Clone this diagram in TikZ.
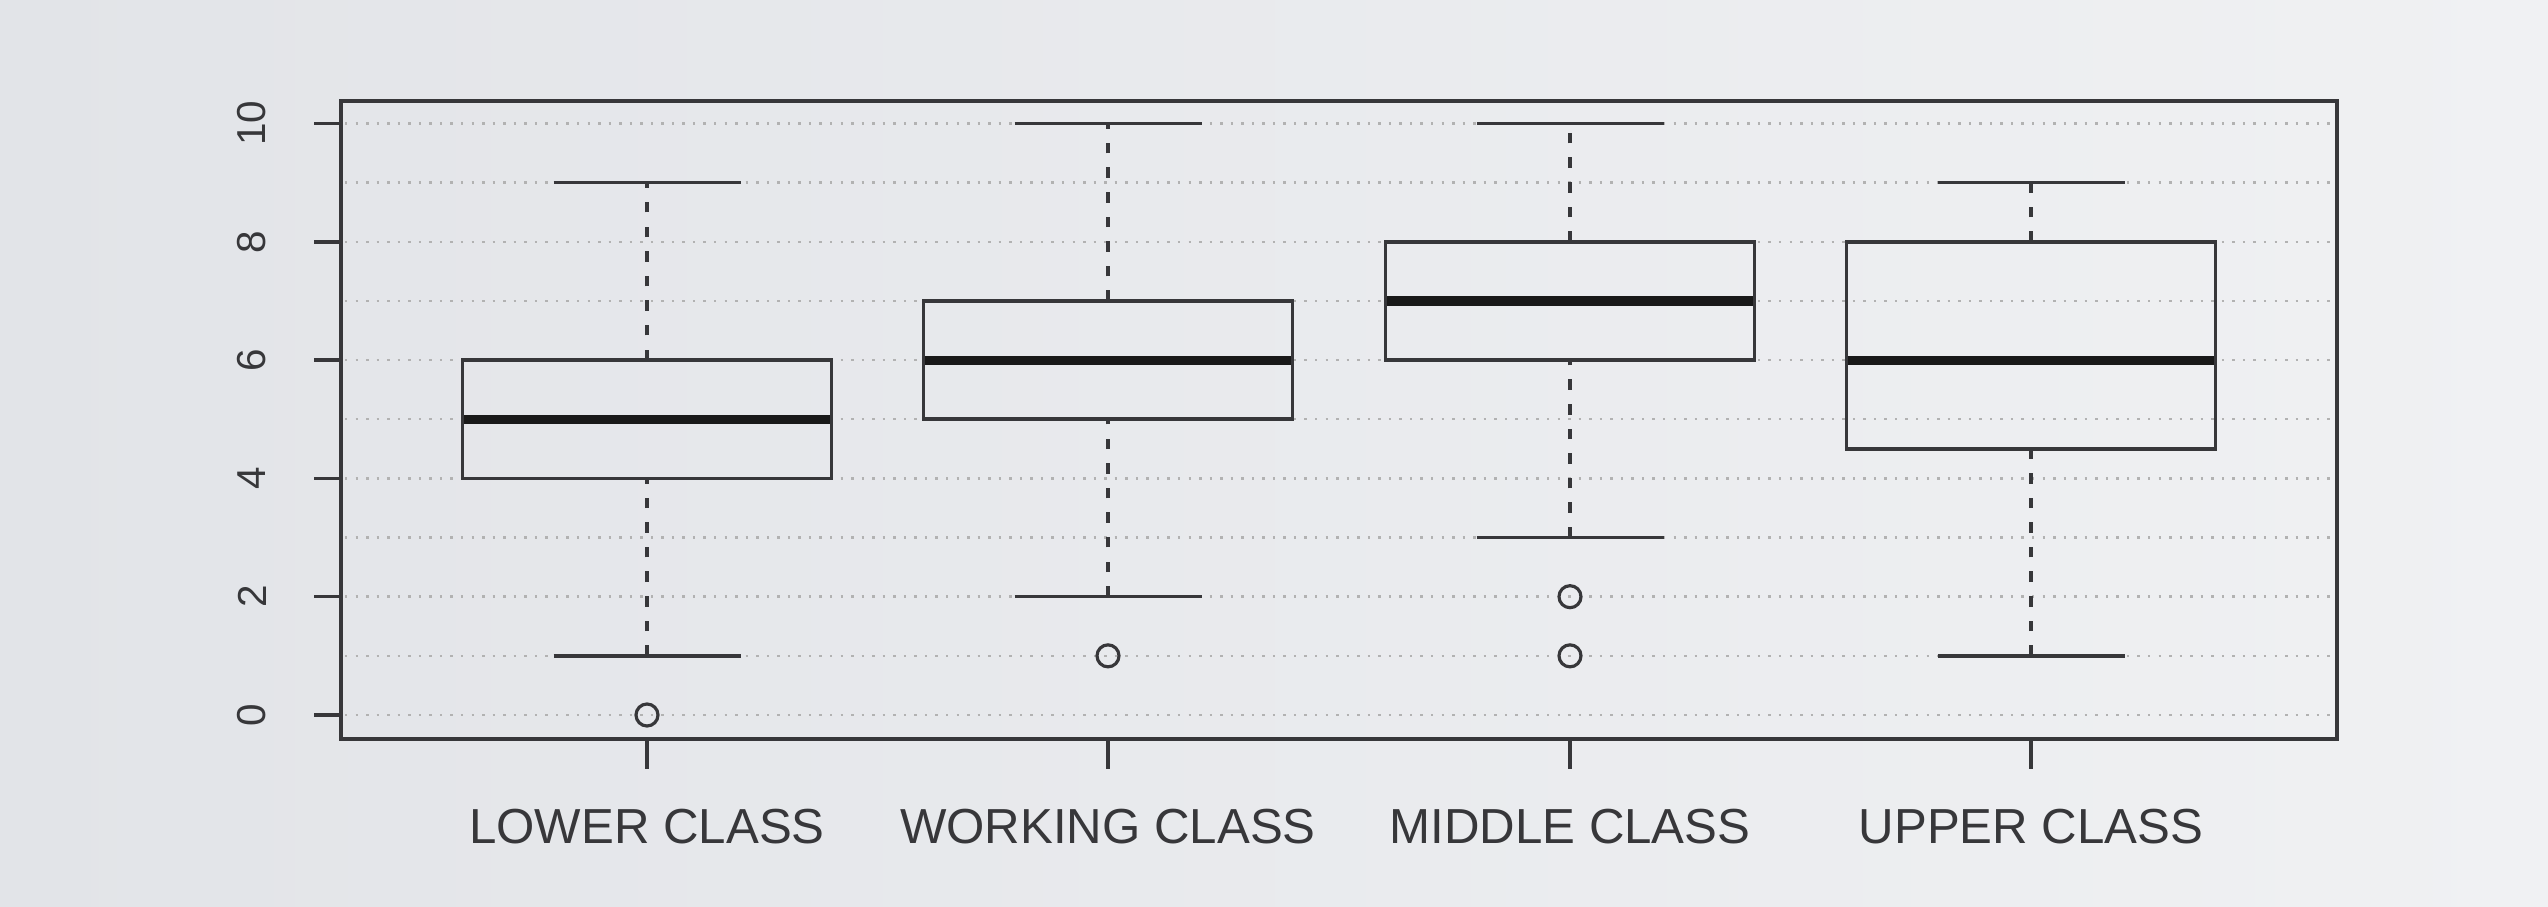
\documentclass[tikz,border=0pt]{standalone}
\usepackage{fontspec}
\setmainfont{Liberation Sans}
\usetikzlibrary{positioning}

\definecolor{bgdark}{RGB}{226,228,232}
\definecolor{bglight}{RGB}{240,241,243}
\definecolor{ink}{RGB}{55,55,58}

\begin{document}
\begin{tikzpicture}[
  frame/.style={draw=ink,line width=1pt},
  grid line/.style={draw=black!30,line width=0.7pt,dash pattern=on 0.7pt off 2.3pt},
  whisker/.style={draw=ink,line width=0.9pt,dash pattern=on 3pt off 4pt},
  median/.style={draw=black!90,line width=2.6pt},
  outlier/.style={circle,draw=ink,line width=0.9pt,minimum size=0.22cm,inner sep=0pt},
  tick label/.style={font=\fontsize{11.5}{12}\selectfont,text=ink,rotate=90},
  class label/.style={font=\fontsize{14}{16}\selectfont,text=ink}]

  % background
  \shade[left color=bgdark,right color=bglight] (0,0) rectangle (25.48,9.06);
  \useasboundingbox (0,0) rectangle (25.48,9.06);

  \begin{scope}[yshift=1.91cm,y=0.5915cm]
    % grid and y axis
    \foreach \v in {0,...,10}
      \draw[grid line] (3.45,\v) -- (23.33,\v);
    \foreach \v in {0,2,...,10} {
      \draw[frame] (3.14,\v) -- (3.41,\v);
      \node[tick label] (t\v) at (2.52,\v) {\v};
    }

    % boxes: centre / low / q1 / median / q3 / high
    \foreach \x/\lo/\qa/\md/\qb/\hi in {6.47/1/4/5/6/9, 11.08/2/5/6/7/10,
        15.70/3/6/7/8/10, 20.31/1/4.5/6/8/9} {
      \draw[whisker] (\x,\lo) -- (\x,\qa);
      \draw[whisker] (\x,\qb) -- (\x,\hi);
      \draw[frame] (\x-0.935,\lo) -- (\x+0.935,\lo);
      \draw[frame] (\x-0.935,\hi) -- (\x+0.935,\hi);
      \draw[frame] (\x-1.845,\qa) rectangle (\x+1.845,\qb);
      \draw[median] (\x-1.83,\md) -- (\x+1.83,\md);
    }

    % outliers
    \node[outlier] (o1) at (6.47,0) {};
    \node[outlier] (o2) at (11.08,1) {};
    \node[outlier] (o3) at (15.70,2) {};
    \node[outlier] (o4) at (15.70,1) {};
  \end{scope}

  % plot frame and x axis
  \draw[frame] (3.41,1.67) rectangle (23.37,8.05);
  \foreach \x in {6.47,11.08,15.70,20.31}
    \draw[frame] (\x,1.67) -- (\x,1.37);

  \node[class label] (lower)   at (6.47,0.79)  {LOWER CLASS};
  \node[class label] (working) at (11.08,0.79) {WORKING CLASS};
  \node[class label] (middle)  at (15.70,0.79) {MIDDLE CLASS};
  \node[class label] (upper)   at (20.31,0.79) {UPPER CLASS};
\end{tikzpicture}
\end{document}
